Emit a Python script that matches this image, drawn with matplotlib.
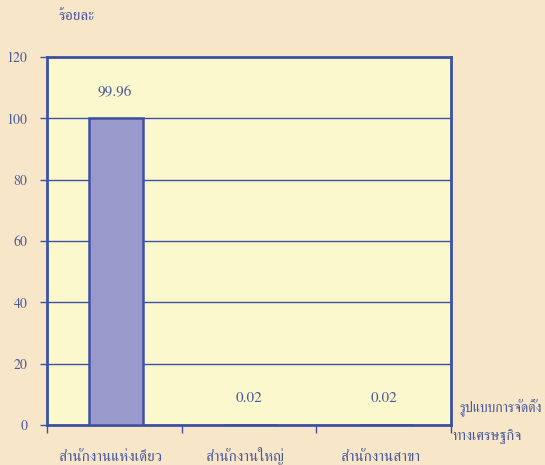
import matplotlib
matplotlib.use('Agg')
import matplotlib.pyplot as plt
import numpy as np

plt.rcParams['font.family'] = ['FreeSerif', 'Liberation Serif', 'DejaVu Serif']

# ข้อมูล
categories = ['สำนักงานแห่งเดียว', 'สำนักงานใหญ่', 'สำนักงานสาขา']
values = [99.96, 0.02, 0.02]
value_labels = ['99.96', '0.02', '0.02']
yticks = [0, 20, 40, 60, 80, 100, 120]

bg = '#F8E6C8'
panel = '#FCF8CE'
blue = '#3D51A3'
txt = '#4A5A9E'

fig = plt.figure(figsize=(5.45, 4.65), dpi=100, facecolor=bg)
ax = fig.add_axes([47/545, 40/465, 404/545, 368/465], facecolor=panel)

x = np.arange(len(categories))
ax.bar(x + 0.015, values, width=0.4, color='#9999CC', edgecolor=blue, linewidth=1.8, zorder=3)

for xi, v, s in zip(x, values, value_labels):
    ax.annotate(s, (xi, v), xytext=(0, 19), textcoords='offset points',
                ha='center', va='center', fontsize=11, color=txt)

ax.set_xlim(-0.5, 2.5)
ax.set_ylim(0, 120)
ax.set_yticks(yticks)
ax.yaxis.grid(True, color=blue, linewidth=1)
ax.set_axisbelow(True)

# เส้นแบ่งหมวดหมู่ + ชื่อหมวดหมู่ (จัดตาม baseline)
ax.set_xticks([-0.5, 0.5, 1.5, 2.5])
ax.set_xticklabels([])
ax.tick_params(axis='x', length=6, width=1, color=blue)
for xi, c in zip(x, categories):
    ax.annotate(c, (xi - 0.03, 0), xycoords=('data', 'axes fraction'),
                xytext=(0, -26), textcoords='offset points',
                ha='center', va='baseline', fontsize=11, color=txt)
ax.tick_params(axis='y', length=5, width=1, color=blue, pad=9, labelsize=10, labelcolor=txt)

for sp in ax.spines.values():
    sp.set_color(blue)
    sp.set_linewidth(2)

fig.text(58/545, 1 - 16/465, 'ร้อยละ', fontsize=11, color=txt, va='center', ha='left')
fig.text(459/545, 1 - 408/465, 'รูปแบบการจัดตั้ง', fontsize=10, color=txt, va='center', ha='left')
fig.text(452/545, 1 - 437/465, 'ทางเศรษฐกิจ', fontsize=10.5, color=txt, va='center', ha='left')

fig.savefig('out.png', dpi=100, facecolor=bg)
